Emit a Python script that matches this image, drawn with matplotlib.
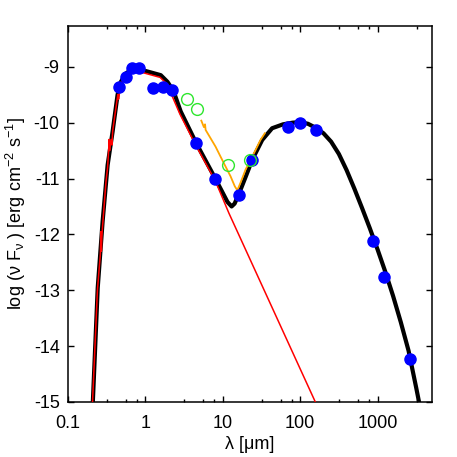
import numpy as np
import matplotlib
matplotlib.use("Agg")
import matplotlib.pyplot as plt

plt.rcParams['font.family'] = ['Liberation Sans', 'DejaVu Sans']
plt.rcParams['axes.unicode_minus'] = False

# photometry (filled blue points)
phot_wave = [0.458, 0.558, 0.662, 0.815, 1.26, 1.69, 2.23, 4.55, 8.0,
             16.3, 23.5, 70.5, 100.7, 160, 885, 1217, 2608]
phot_flux = [-9.357, -9.189, -9.029, -9.029, -9.374, -9.362, -9.415, -10.366, -11.0,
             -11.296, -10.663, -10.07, -9.998, -10.128, -12.112, -12.766, -14.228]

# WISE-like photometry (open green circles)
wise_wave = [3.42, 4.64, 11.8, 22.8]
wise_flux = [-9.570, -9.759, -10.752, -10.663]

# total model SED (thick black)
model_wave = [0.205, 0.242, 0.280, 0.325, 0.377, 0.437, 0.482, 0.558, 0.648, 0.918,
              1.58, 1.93, 2.3, 2.86, 4.55, 8.0, 11.5, 13.0, 14.2, 16.0, 20.0, 24.1,
              32.3, 43.4, 60.0, 80.0, 100.0, 126.0, 158.0, 200.0, 251.0, 316.0, 398.0,
              501.0, 631.0, 794.0, 1000.0, 1259.0, 1585.0, 1995.0, 2512.0, 3162.0, 3548.0]
model_flux = [-15.3, -12.96, -11.77, -10.76, -10.16, -9.50, -9.27, -9.12, -9.06, -9.06,
              -9.15, -9.27, -9.43, -9.80, -10.37, -11.0, -11.42, -11.50, -11.45, -11.29,
              -10.95, -10.66, -10.31, -10.10, -10.03, -10.0, -9.99, -10.02, -10.09, -10.19,
              -10.34, -10.56, -10.85, -11.18, -11.53, -11.89, -12.27, -12.67, -13.10,
              -13.57, -14.08, -14.75, -15.1]

# stellar photosphere (thin red)
star_wave = [0.203, 0.24, 0.262, 0.266, 0.270, 0.274, 0.28, 0.30, 0.31, 0.325, 0.335,
             0.340, 0.345, 0.35, 0.36, 0.37, 0.378, 0.40, 0.42, 0.44, 0.45, 0.48, 0.56,
             0.65, 0.9, 1.55, 1.9, 2.8, 4.5, 8.0, 12.0, 157.0, 200.0]
star_flux = [-15.3, -13.0, -12.35, -11.95, -12.3, -12.05, -11.85, -11.3, -11.05, -10.8, -10.5,
             -10.3, -10.5, -10.4, -10.3, -10.4, -10.15, -9.9, -9.7, -9.5, -9.58, -9.32, -9.14,
             -9.09, -9.10, -9.19, -9.31, -9.85, -10.41, -11.04, -11.62, -15.0, -15.3]

# IRS-like spectrum (orange)
spec_wave = [5.28, 5.7, 5.9, 6.0, 6.96, 8.07, 9.37, 10.9, 12.6, 14.3, 15.4, 16.9, 19.7,
             22.8, 26.5, 30.7, 34.9]
spec_flux = [-9.964, -10.08, -10.03, -10.13, -10.28, -10.43, -10.61, -10.79, -10.96, -11.14,
             -11.21, -11.08, -10.84, -10.67, -10.49, -10.31, -10.19]

xtick_vals = [0.1, 1, 10, 100, 1000]
xtick_labels = ['0.1', '1', '10', '100', '1000']
minor_factors = [3.2, 5.6, 7.8]
ytick_vals = [-15, -14, -13, -12, -11, -10, -9]

fig = plt.figure(figsize=(4.57, 4.57), dpi=100)
ax = fig.add_axes([68 / 457, 1 - 402 / 457, 364 / 457, 376 / 457])

ax.plot(model_wave, model_flux, color='black', lw=3.0, solid_joinstyle='round', zorder=2)
ax.plot(star_wave, star_flux, color='red', lw=1.1, zorder=3)
ax.plot(spec_wave, spec_flux, color='orange', lw=1.3, zorder=4)
ax.plot(phot_wave, phot_flux, 'o', color='blue', ms=8, mec='blue', zorder=5)
ax.plot(wise_wave, wise_flux, 'o', mfc='none', mec='#2ee62e', ms=8.5, mew=1.0, zorder=6)

ax.set_xscale('log')
ax.set_xlim(0.1, 5050)
ax.set_ylim(-15, -8.27)

ax.set_xticks(xtick_vals)
ax.set_xticklabels(xtick_labels)
minors = [d * f for d in [0.1, 1, 10, 100, 1000] for f in minor_factors]
ax.set_xticks([m for m in minors if m < 5050], minor=True)
ax.xaxis.set_minor_formatter(plt.NullFormatter())
ax.set_yticks(ytick_vals)
ax.set_yticklabels([str(v) for v in ytick_vals])

ax.tick_params(which='both', direction='in', top=True, right=True, width=1.0, labelsize=13)
ax.tick_params(which='major', length=4.0)
ax.tick_params(which='minor', length=2.2)
ax.tick_params(axis='x', which='major', pad=9)
ax.tick_params(axis='y', which='major', pad=6)
for s in ax.spines.values():
    s.set_linewidth(1.1)

ax.set_xlabel('λ [μm]', fontsize=13, labelpad=3)
ax.set_ylabel(r'log (ν F$_\mathregular{ν}$ ) [erg cm$^\mathregular{-2}$ s$^\mathregular{-1}$]',
              fontsize=13, labelpad=4)

fig.savefig('out.png', dpi=100)
